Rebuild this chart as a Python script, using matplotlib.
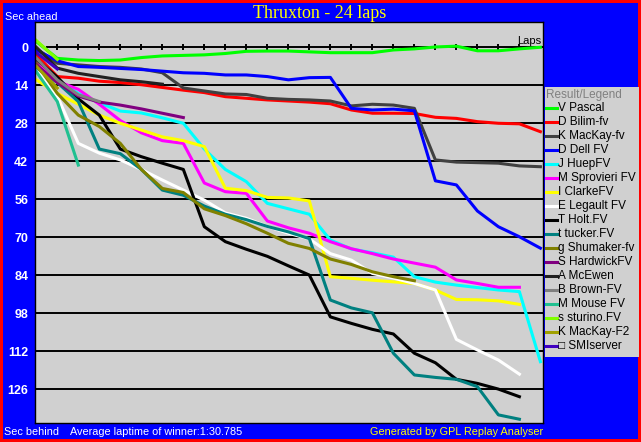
import numpy as np
import matplotlib
matplotlib.use('Agg')
import matplotlib.pyplot as plt
from matplotlib.patches import Rectangle
from matplotlib.lines import Line2D

plt.rcParams['font.family'] = ['Liberation Sans', 'DejaVu Sans']

# seconds behind the winner's average lap, one value per lap (lap 0 = start)
pascal = [-2.1, 4.1, 4.7, 4.9, 4.7, 3.8, 3.2, 3.0, 2.8, 2.3, 1.5, 1.4, 1.4, 1.7, 2.0, 2.0, 2.0, 1.0, 0.6, -0.1, -0.4, 1.3, 1.3, 0.6, 0.0]
bilim = [2.8, 10.8, 11.4, 12.5, 13.0, 13.8, 14.8, 15.8, 16.7, 18.2, 18.8, 19.4, 19.8, 20.2, 20.8, 23.1, 24.3, 24.3, 24.4, 25.8, 26.2, 27.4, 28.0, 28.2, 31.1]
mackay_fv = [0.5, 5.9, 6.5, 7.1, 7.4, 8.0, 9.4, 15.0, 16.1, 17.2, 17.4, 18.8, 19.2, 19.4, 19.8, 21.6, 21.0, 21.3, 22.5, 41.5, 42.3, 42.5, 42.7, 43.7, 44.0]
dell = [1.0, 5.0, 7.1, 7.4, 7.8, 8.2, 8.8, 9.4, 9.6, 10.2, 10.2, 10.8, 12.0, 11.2, 11.1, 22.5, 23.1, 22.8, 23.4, 49.2, 50.7, 60.3, 66.1, 69.8, 74.0]
huep = [6.0, 12.0, 17.0, 20.5, 23.5, 24.2, 26.0, 28.0, 37.5, 45.0, 49.5, 57.5, 59.5, 61.5, 71.0, 74.3, 75.7, 77.3, 84.5, 86.5, 87.6, 88.5, 89.4, 90.0, 115.8]
sprovieri = [5.0, 12.5, 15.5, 21.0, 27.0, 31.5, 34.4, 35.4, 50.0, 53.2, 53.8, 64.0, 66.5, 68.5, 71.6, 74.2, 76.0, 78.0, 79.5, 81.0, 85.7, 87.0, 88.4, 88.4]
clarke = [12.0, 17.0, 21.0, 25.0, 28.0, 30.5, 33.0, 34.4, 36.6, 51.9, 52.8, 55.3, 55.5, 56.6, 84.5, 85.1, 85.8, 86.4, 87.0, 89.4, 92.9, 93.0, 93.4, 94.7]
legault = [8.5, 18.0, 35.4, 39.0, 41.5, 45.0, 48.9, 52.6, 56.3, 61.0, 63.0, 66.0, 68.5, 70.6, 76.0, 78.4, 83.3, 85.0, 87.0, 89.4, 107.6, 111.5, 115.2, 120.4]
holt = [4.5, 11.0, 19.0, 25.0, 37.5, 40.3, 42.7, 45.0, 66.1, 71.6, 74.4, 77.0, 80.5, 83.9, 99.3, 101.7, 103.9, 105.6, 112.7, 116.2, 122.3, 123.8, 125.9, 128.7]
tucker = [7.5, 13.0, 20.0, 37.5, 39.2, 45.0, 52.6, 54.5, 58.5, 61.5, 63.5, 66.0, 68.0, 70.5, 93.1, 96.0, 97.8, 112.7, 120.7, 121.6, 122.3, 125.0, 135.4, 137.0]
shumaker = [6.0, 17.0, 25.0, 29.2, 35.4, 45.0, 52.0, 53.5, 59.5, 62.0, 65.0, 68.5, 72.2, 74.1, 78.0, 80.0, 82.7, 84.5, 86.0]
hardwick = [6.5, 13.0, 18.0, 20.2, 21.3, 22.7, 24.3, 25.9]
mcewen = [0.0, 7.7, 9.6, 10.8, 12.0, 12.7, 13.6]
brown = [4.0, 12.0, 17.5, 20.0]
mouse = [9.0, 20.0, 43.4]
sturino = [-2.5, 4.5]
mackay_f2 = [7.0, 15.0]
smiserver = [2.0, 8.0]

drivers = ['V Pascal', 'D Bilim-fv', 'K MacKay-fv', 'D Dell FV', 'J HuepFV', 'M Sprovieri FV',
           'I ClarkeFV', 'E Legault FV', 'T Holt.FV', 't tucker.FV', 'g Shumaker-fv', 'S HardwickFV',
           'A McEwen', 'B Brown-FV', 'M Mouse FV', 's sturino.FV', 'K MacKay-F2', '\u25a1 SMIserver']
series = [pascal, bilim, mackay_fv, dell, huep, sprovieri, clarke, legault, holt, tucker,
          shumaker, hardwick, mcewen, brown, mouse, sturino, mackay_f2, smiserver]
colors = ['#00ff00', '#ff0000', '#404040', '#0000ff', '#00ffff', '#ff00ff', '#ffff00', '#ffffff',
          '#000000', '#008080', '#808000', '#800080', '#202020', '#808080', '#20c090', '#80ff00',
          '#a0a000', '#4000c0']
yticks = [0, 14, 28, 42, 56, 70, 84, 98, 112, 126]
lap_ticks = list(range(1, 24))

W, H = 641, 442
fig = plt.figure(figsize=(W / 100, H / 100), dpi=100, facecolor='#0000ff',
                 edgecolor='#ff0000', linewidth=3)
ax = fig.add_axes([34.5 / W, 1 - 423.3 / H, 508 / W, 401.3 / H])
ax.set_facecolor('#d0d0d0')
ax.set_xlim(-0.086, 24.1)
ax.set_ylim(138.5, -9.3)

# grid + lap axis
for v in yticks[1:]:
    ax.axhline(v, color='black', lw=1.4, zorder=1)
ax.hlines(0, 0.45, 24.1, color='black', lw=1.4, zorder=1)
ax.vlines(lap_ticks, -1.1, 1.1, color='black', lw=1.4, zorder=1)

for vals, col in zip(series, colors):
    ax.plot(range(len(vals)), vals, color=col, lw=2.2, zorder=2)

ax.set_xticks([])
ax.set_yticks(yticks)
ax.set_yticklabels([str(v) for v in yticks], color='white', fontweight='bold', fontsize=9)
ax.tick_params(axis='y', length=0, pad=4.5)
for s in ax.spines.values():
    s.set_color('black')
    s.set_linewidth(1)

fig.text(541 / W, 1 - 45.5 / H, 'Laps', ha='right', va='bottom', fontsize=8, color='black')

# titles / footers
fig.text(320 / W, 1 - 18 / H, 'Thruxton - 24 laps', ha='center', va='baseline',
         color='#ffff00', fontsize=13, family='Liberation Serif')
fig.text(5 / W, 1 - 20 / H, 'Sec ahead', ha='left', va='baseline', color='white', fontsize=7.8)
fig.text(4 / W, 1 - 435 / H, 'Sec behind', ha='left', va='baseline', color='white', fontsize=7.8)
fig.text(70 / W, 1 - 435 / H, 'Average laptime of winner:1:30.785', ha='left', va='baseline',
         color='white', fontsize=7.8)
fig.text(543 / W, 1 - 435 / H, 'Generated by GPL Replay Analyser', ha='right', va='baseline',
         color='#ffff00', fontsize=7.8)

# legend panel
fig.add_artist(Rectangle((545 / W, 1 - 357 / H), 94 / W, 270 / H, transform=fig.transFigure,
                         facecolor='#d0d0d0', edgecolor='none'))
fig.text(546 / W, 1 - 95 / H, 'Result/Legend', ha='left', va='center', color='#808080', fontsize=8.5)
for i, (name, col) in enumerate(zip(drivers, colors)):
    yy = 1 - (108.3 + 14 * i) / H
    fig.add_artist(Line2D([546 / W, 557 / W], [yy, yy], transform=fig.transFigure,
                          color=col, lw=2.2))
    fig.text(557.5 / W, yy, name, ha='left', va='center', color='black', fontsize=8.5)

fig.savefig('out.png', dpi=100, facecolor=fig.get_facecolor(), edgecolor=fig.get_edgecolor())
